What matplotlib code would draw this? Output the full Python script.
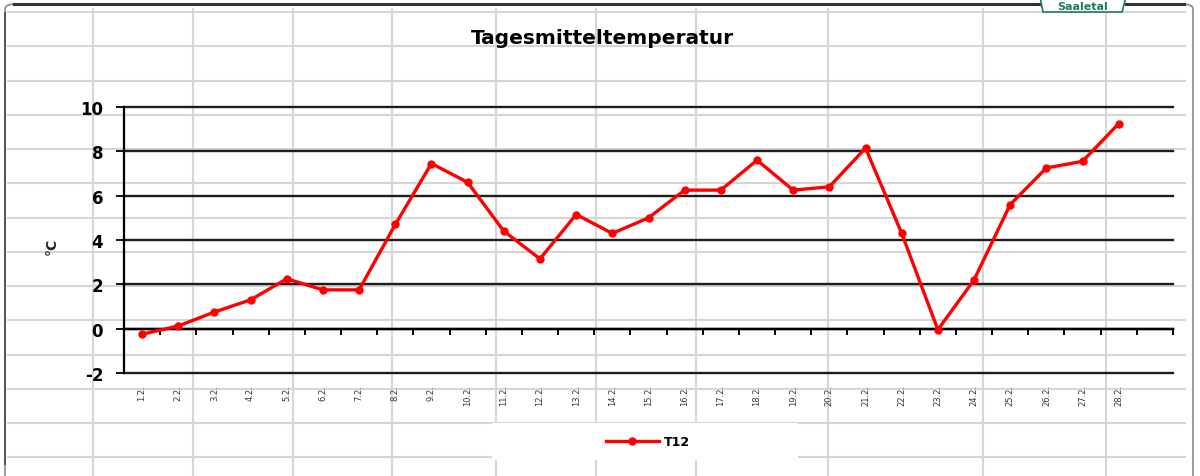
import numpy as np
import matplotlib
matplotlib.use("Agg")
import matplotlib.pyplot as plt
from matplotlib.lines import Line2D
from matplotlib.patches import Rectangle, FancyBboxPatch, Polygon

# ---- data ----
days = ["1.2.", "2.2.", "3.2.", "4.2.", "5.2.", "6.2.", "7.2.", "8.2.", "9.2.", "10.2.",
        "11.2.", "12.2.", "13.2.", "14.2.", "15.2.", "16.2.", "17.2.", "18.2.", "19.2.", "20.2.",
        "21.2.", "22.2.", "23.2.", "24.2.", "25.2.", "26.2.", "27.2.", "28.2.", ""]
t12 = [-0.25, 0.12, 0.75, 1.3, 2.25, 1.75, 1.75, 4.7, 7.45, 6.6,
       4.4, 3.15, 5.15, 4.3, 5.0, 6.25, 6.25, 7.6, 6.25, 6.4,
       8.15, 4.3, -0.05, 2.2, 5.6, 7.25, 7.55, 9.25]
series_name = "T12"
title = "Tagesmitteltemperatur"
y_label = "°C"
y_ticks = [-2, 0, 2, 4, 6, 8, 10]

W, H = 1200, 477
fig = plt.figure(figsize=(W / 100, H / 100), dpi=100)
fig.patch.set_facecolor("white")

def fx(x):
    return x / W

def fy(y):
    return 1 - y / H

# ---- spreadsheet background grid ----
grey = "#d6d6d6"
col_x = [93, 193, 293, 392, 496, 596, 696, 828, 983, 1106]
row_y = [13 + 34.25 * i for i in range(14)]
for x in col_x:
    fig.add_artist(Line2D([fx(x), fx(x)], [fy(10), fy(477)], color=grey, lw=1.5, zorder=-10))
for y in row_y:
    fig.add_artist(Line2D([fx(8), fx(1185)], [fy(y), fy(y)], color=grey, lw=1.5, zorder=-10))
# white patch (hidden grid) around legend area
fig.add_artist(Rectangle((fx(492), fy(461)), fx(798) - fx(492), fy(424) - fy(461),
                         transform=fig.transFigure, facecolor="white", edgecolor="none", zorder=-9))

# ---- window border ----
fig.add_artist(FancyBboxPatch((fx(5), fy(490)), fx(1193) - fx(5), fy(5) - fy(490),
                              boxstyle="round,pad=0,rounding_size=0.01",
                              transform=fig.transFigure, facecolor="none",
                              edgecolor="#8a8a8a", lw=1.2, zorder=-8))
fig.add_artist(Line2D([fx(14), fx(1040)], [fy(5), fy(5)], color="#333333", lw=2.2, zorder=-7))
fig.add_artist(Line2D([fx(1126), fx(1184)], [fy(5), fy(5)], color="#333333", lw=2.2, zorder=-7))
fig.add_artist(Line2D([fx(5), fx(5)], [fy(14), fy(465)], color="#555555", lw=1.4, zorder=-7))

# logo
logo_green = "#1d7a5c"
fig.add_artist(Polygon([(fx(1040), fy(-2)), (fx(1043), fy(13)), (fx(1122), fy(13)), (fx(1126), fy(-2))],
                       closed=True, transform=fig.transFigure, facecolor="white",
                       edgecolor=logo_green, lw=1.2, zorder=-6))
fig.text(fx(1083), fy(10.5), "Saaletal", color=logo_green, fontsize=8, fontweight="bold",
         ha="center", va="baseline", family="DejaVu Sans", zorder=-5)

# ---- chart ----
ax = fig.add_axes([fx(124), fy(374), fx(1173) - fx(124), fy(108) - fy(374)])
ax.set_facecolor("none")
x = np.arange(len(t12))
ax.plot(x, t12, color="#ff0000", lw=2.4, marker="o", markersize=5, label=series_name,
        zorder=5, solid_joinstyle="round")
ax.set_xlim(-0.5, len(days) - 0.5)
ax.set_ylim(-2, 10)

ax.set_yticks(y_ticks)
ax.set_yticklabels([str(v) for v in y_ticks], fontsize=12, fontweight="bold", family="DejaVu Sans")
ax.tick_params(axis="y", direction="out", length=6, width=1.3, pad=9, colors="black")
ax.yaxis.grid(True, color="#1e1e1e", lw=1.7)
for gl in ax.get_ygridlines():
    gl.set_clip_on(False)
ax.set_axisbelow(True)

for s in ("top", "right"):
    ax.spines[s].set_visible(False)
ax.spines["left"].set_linewidth(1.6)
ax.spines["bottom"].set_position(("data", 0))
ax.spines["bottom"].set_linewidth(1.7)

ax.set_xticks(np.arange(0.5, len(days), 1))
ax.set_xticklabels([])
ax.tick_params(axis="x", direction="out", length=4, width=1.4)

sec = ax.secondary_xaxis("bottom")
sec.set_xticks(np.arange(len(days)), days)
sec.tick_params(axis="x", length=0, pad=8, labelsize=6, labelrotation=90)
for lab in sec.get_xticklabels():
    lab.set_va("top")
    lab.set_color("#333344")
sec.spines["bottom"].set_visible(False)

fig.text(fx(602), fy(39), title, fontsize=14.5, fontweight="bold", family="DejaVu Sans",
         ha="center", va="center")
fig.text(fx(52), fy(246), y_label, fontsize=10, fontweight="bold", family="DejaVu Sans",
         ha="center", va="center", rotation=90, color="#222233")

ax.legend(loc="center", bbox_to_anchor=(fx(648), fy(443)), bbox_transform=fig.transFigure,
          frameon=False, prop={"size": 9, "weight": "bold", "family": "DejaVu Sans"},
          handlelength=4.3, handletextpad=0.4, borderpad=0, borderaxespad=0)

fig.savefig("out.png", dpi=100)
